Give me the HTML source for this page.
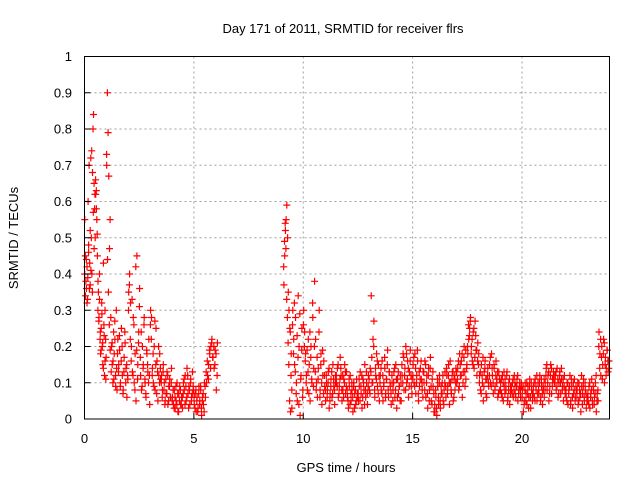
<!DOCTYPE html>
<html><head><meta charset="utf-8"><style>
body{margin:0;background:#fff}
svg{display:block;font-family:"Liberation Sans",sans-serif;font-size:13px}
</style></head><body>
<svg id="chart" width="640" height="480">
<rect width="640" height="480" fill="#fff"/>
<g id="grid"></g>
<g id="pts"></g>
<rect x="84.5" y="56.5" width="525" height="362.5" fill="none" stroke="#000"/>
<g id="ticks"></g>
<text x="343" y="33" text-anchor="middle">Day 171 of 2011, SRMTID for receiver flrs</text>
<text x="346" y="472" text-anchor="middle">GPS time / hours</text>
<text transform="translate(18,238) rotate(-90)" text-anchor="middle">SRMTID / TECUs</text>
</svg>
<script>
const xTicks=[0,5,10,15,20];
const yTicks=[0,0.1,0.2,0.3,0.4,0.5,0.6,0.7,0.8,0.9,1];
const yTickLabels=["0","0.1","0.2","0.3","0.4","0.5","0.6","0.7","0.8","0.9","1"];
const blockStart=[0,0.5,1,1.5,2,2.5,3,3.5,4,4.5,5,5.5,9.1,9.5,10,10.5,11,11.5,12,12.5,13,13.5,14,14.5,15,15.5,16,16.5,17,17.5,18,18.5,19,19.5,20,20.5,21,21.5,22,22.5,23,23.5];
const blockEnd=[0.5,1,1.5,2,2.5,3,3.5,4,4.5,5,5.5,6.1,9.5,10,10.5,11,11.5,12,12.5,13,13.5,14,14.5,15,15.5,16,16.5,17,17.5,18,18.5,19,19.5,20,20.5,21,21.5,22,22.5,23,23.5,24];
const tecu=[
[0.55,0.45,0.38,0.36,0.42,0.33,0.60,0.48,0.70,0.43,0.37,0.72,0.50,0.40,0.35,0.80,0.84,0.65,0.58,0.50],
[0.62,0.63,0.55,0.45,0.30,0.35,0.28,0.40,0.22,0.18,0.25,0.32,0.20,0.15,0.43,0.26,0.12,0.30,0.22,0.17],
[0.70,0.90,0.79,0.67,0.47,0.55,0.28,0.20,0.15,0.10,0.24,0.18,0.22,0.12,0.30,0.08],
[0.22,0.15,0.19,0.10,0.25,0.12,0.08,0.17,0.21,0.14,0.06,0.11],
[0.35,0.40,0.32,0.20,0.13,0.28,0.10,0.18,0.05,0.45,0.15,0.24],
[0.36,0.12,0.08,0.20,0.15,0.28,0.10,0.06,0.18,0.13,0.22,0.04],
[0.30,0.28,0.14,0.10,0.20,0.08,0.25,0.16,0.05,0.12,0.18,0.11],
[0.12,0.08,0.15,0.10,0.05,0.07,0.13,0.04,0.09,0.11,0.06,0.14],
[0.06,0.04,0.08,0.03,0.05,0.10,0.02,0.07,0.09,0.04,0.06,0.03],
[0.10,0.08,0.12,0.05,0.14,0.07,0.09,0.04,0.11,0.06,0.13,0.08],
[0.04,0.07,0.02,0.06,0.03,0.09,0.05,0.08,0.01,0.06,0.04,0.10],
[0.06,0.10,0.12,0.15,0.18,0.20,0.22,0.17,0.14,0.19,0.08,0.21],
[0.37,0.45,0.52,0.55,0.59,0.50,0.35,0.30,0.25,0.02,0.18,0.03],
[0.30,0.22,0.15,0.28,0.10,0.05,0.34,0.20,0.01,0.12,0.25,0.08],
[0.30,0.24,0.18,0.12,0.08,0.22,0.15,0.05,0.20,0.10,0.28,0.14],
[0.38,0.22,0.10,0.06,0.14,0.30,0.08,0.18,0.04,0.12,0.16,0.09],
[0.05,0.10,0.08,0.13,0.03,0.07,0.11,0.06,0.15,0.09,0.04,0.12],
[0.10,0.14,0.06,0.09,0.17,0.12,0.05,0.08,0.11,0.15,0.07,0.13],
[0.06,0.03,0.09,0.12,0.05,0.08,0.02,0.10,0.07,0.04,0.11,0.06],
[0.05,0.09,0.13,0.07,0.03,0.11,0.08,0.15,0.06,0.10,0.04,0.12],
[0.08,0.14,0.34,0.10,0.22,0.27,0.06,0.12,0.18,0.09,0.15,0.05],
[0.12,0.08,0.16,0.05,0.10,0.14,0.07,0.11,0.19,0.06,0.13,0.09],
[0.04,0.10,0.08,0.13,0.06,0.15,0.03,0.11,0.07,0.09,0.12,0.05],
[0.12,0.18,0.08,0.14,0.20,0.10,0.16,0.06,0.13,0.19,0.09,0.11],
[0.15,0.10,0.18,0.07,0.12,0.16,0.05,0.09,0.14,0.11,0.08,0.13],
[0.10,0.16,0.06,0.12,0.03,0.14,0.08,0.17,0.05,0.11,0.09,0.02],
[0.02,0.06,0.01,0.09,0.04,0.12,0.03,0.07,0.10,0.05,0.08,0.13],
[0.06,0.12,0.09,0.15,0.04,0.10,0.07,0.13,0.05,0.11,0.08,0.14],
[0.10,0.14,0.08,0.18,0.12,0.16,0.06,0.13,0.20,0.09,0.11,0.15],
[0.18,0.22,0.25,0.28,0.20,0.16,0.24,0.14,0.27,0.19,0.12,0.21],
[0.18,0.12,0.08,0.15,0.10,0.05,0.13,0.16,0.07,0.11,0.14,0.09],
[0.15,0.10,0.18,0.12,0.07,0.14,0.09,0.16,0.11,0.06,0.13,0.08],
[0.10,0.07,0.12,0.05,0.09,0.11,0.08,0.13,0.06,0.10,0.04,0.09],
[0.08,0.10,0.06,0.12,0.07,0.09,0.11,0.05,0.08,0.10,0.06,0.09],
[0.08,0.02,0.05,0.10,0.07,0.04,0.09,0.06,0.11,0.03,0.08,0.05],
[0.09,0.06,0.11,0.08,0.05,0.10,0.07,0.12,0.06,0.09,0.04,0.08],
[0.06,0.10,0.14,0.08,0.12,0.05,0.09,0.15,0.07,0.11,0.13,0.10],
[0.12,0.08,0.14,0.06,0.10,0.13,0.07,0.11,0.09,0.05,0.12,0.08],
[0.06,0.10,0.04,0.08,0.12,0.05,0.09,0.03,0.07,0.11,0.06,0.08],
[0.08,0.04,0.10,0.06,0.02,0.09,0.07,0.11,0.05,0.08,0.03,0.06],
[0.05,0.09,0.03,0.07,0.11,0.04,0.08,0.06,0.10,0.02,0.07,0.05],
[0.24,0.18,0.12,0.20,0.15,0.22,0.10,0.17,0.14,0.19,0.13,0.16]
];
const tecuB=[
[0.40,0.34,0.44,0.32,0.39,0.46,0.36,0.52,0.41,0.74,0.68,0.57,0.47,0.62],
[0.66,0.58,0.51,0.38,0.27,0.33,0.24,0.19,0.29,0.21,0.14,0.23,0.16,0.11],
[0.73,0.44,0.35,0.26,0.19,0.13,0.21,0.16,0.11,0.27,0.09,0.14],
[0.18,0.13,0.23,0.09,0.16,0.20,0.07,0.13,0.24,0.10,0.15,0.12],
[0.30,0.37,0.22,0.16,0.33,0.12,0.26,0.08,0.42,0.19,0.11,0.21],
[0.31,0.17,0.24,0.09,0.14,0.26,0.11,0.07,0.19,0.15,0.10,0.12],
[0.26,0.22,0.12,0.18,0.09,0.27,0.15,0.07,0.13,0.20,0.10,0.14],
[0.10,0.06,0.13,0.08,0.04,0.11,0.07,0.12,0.05,0.09,0.06,0.10],
[0.05,0.08,0.03,0.06,0.09,0.04,0.07,0.02,0.05,0.08,0.04,0.06],
[0.07,0.11,0.04,0.09,0.06,0.12,0.03,0.08,0.10,0.05,0.07,0.09],
[0.06,0.03,0.08,0.05,0.02,0.07,0.04,0.09,0.03,0.05,0.07,0.02],
[0.09,0.13,0.16,0.11,0.19,0.14,0.21,0.17,0.20,0.15,0.18,0.12],
[0.42,0.49,0.54,0.47,0.33,0.28,0.21,0.15,0.05,0.24,0.12,0.08],
[0.26,0.18,0.32,0.13,0.07,0.23,0.17,0.04,0.29,0.11,0.19,0.06],
[0.26,0.20,0.16,0.10,0.19,0.13,0.07,0.24,0.17,0.11,0.32,0.09],
[0.20,0.13,0.08,0.17,0.11,0.24,0.06,0.15,0.10,0.19,0.07,0.12],
[0.08,0.12,0.06,0.10,0.14,0.05,0.09,0.13,0.07,0.11,0.08,0.10],
[0.12,0.09,0.15,0.07,0.11,0.14,0.08,0.12,0.06,0.10,0.13,0.09],
[0.08,0.05,0.11,0.04,0.07,0.10,0.06,0.09,0.03,0.08,0.05,0.07],
[0.07,0.11,0.05,0.09,0.12,0.06,0.10,0.04,0.08,0.13,0.07,0.09],
[0.11,0.07,0.13,0.17,0.10,0.20,0.08,0.14,0.11,0.16,0.07,0.12],
[0.10,0.14,0.07,0.12,0.09,0.17,0.06,0.11,0.15,0.08,0.13,0.10],
[0.07,0.12,0.05,0.10,0.14,0.08,0.11,0.06,0.13,0.09,0.05,0.10],
[0.15,0.10,0.17,0.12,0.08,0.18,0.11,0.14,0.09,0.16,0.12,0.07],
[0.12,0.17,0.09,0.14,0.10,0.19,0.07,0.13,0.11,0.16,0.10,0.06],
[0.13,0.08,0.15,0.10,0.07,0.12,0.05,0.14,0.09,0.04,0.13,0.07],
[0.04,0.08,0.03,0.11,0.06,0.10,0.05,0.09,0.07,0.12,0.04,0.10],
[0.09,0.14,0.07,0.12,0.10,0.16,0.08,0.11,0.13,0.06,0.12,0.10],
[0.13,0.11,0.16,0.09,0.15,0.12,0.18,0.10,0.17,0.13,0.19,0.14],
[0.20,0.26,0.23,0.27,0.18,0.22,0.15,0.25,0.17,0.23,0.19,0.16],
[0.15,0.10,0.13,0.07,0.12,0.17,0.09,0.14,0.11,0.06,0.12,0.10],
[0.12,0.17,0.09,0.14,0.10,0.15,0.08,0.12,0.10,0.13,0.07,0.11],
[0.08,0.11,0.06,0.10,0.13,0.07,0.09,0.12,0.05,0.08,0.11,0.07],
[0.09,0.07,0.11,0.08,0.10,0.06,0.09,0.12,0.07,0.09,0.08,0.10],
[0.06,0.09,0.04,0.08,0.05,0.10,0.07,0.03,0.09,0.06,0.10,0.07],
[0.07,0.10,0.05,0.09,0.12,0.07,0.08,0.10,0.05,0.11,0.07,0.09],
[0.11,0.08,0.12,0.15,0.10,0.13,0.07,0.12,0.14,0.09,0.11,0.12],
[0.10,0.13,0.09,0.11,0.07,0.12,0.10,0.14,0.08,0.11,0.09,0.07],
[0.08,0.05,0.10,0.07,0.09,0.04,0.11,0.06,0.10,0.08,0.05,0.09],
[0.06,0.10,0.05,0.08,0.07,0.12,0.04,0.09,0.06,0.10,0.07,0.05],
[0.07,0.04,0.10,0.06,0.08,0.05,0.09,0.04,0.07,0.12,0.05,0.08],
[0.20,0.14,0.22,0.17,0.11,0.18,0.21,0.15,0.12,0.19,0.16,0.14]
];
const NS="http://www.w3.org/2000/svg";
const X0=84.5,X1=609.5,Y0=419,Y1=56.5;
function xs(h){return X0+(h/24)*(X1-X0);}
function ys(v){return Y0-v*(Y0-Y1);}
function mk(tag,attrs,parent){const e=document.createElementNS(NS,tag);for(const k in attrs)e.setAttribute(k,attrs[k]);parent.appendChild(e);return e;}
const grid=document.getElementById('grid'),ticks=document.getElementById('ticks'),pts=document.getElementById('pts');
xTicks.forEach(t=>{
  const x=xs(t);
  if(t>0){const g=mk('line',{x1:x,x2:x,y1:Y1,y2:Y0,stroke:'#a0a0a0','stroke-dasharray':'2,3'},grid);
  
  }
  const l=mk('line',{x1:x,x2:x,y1:Y0,y2:Y0-6,stroke:'#000'},ticks);
  
  
  const tx=mk('text',{x:x,y:443,'text-anchor':'middle'},ticks);tx.textContent=String(t);
  
  
});
yTicks.forEach((t,i)=>{
  const y=ys(t);
  if(t>0&&t<1){const g=mk('line',{x1:X0,x2:X1,y1:y,y2:y,stroke:'#a0a0a0','stroke-dasharray':'2,3'},grid);
  
  }
  const l=mk('line',{x1:X0,x2:X0+6,y1:y,y2:y,stroke:'#000'},ticks);
  
  
  const tx=mk('text',{x:72,y:y+4.5,'text-anchor':'end'},ticks);tx.textContent=yTickLabels[i];
  
  
});
function pathFor(series,offset){
  let d='';
  series.forEach((vals,b)=>{
    const s=blockStart[b],e=blockEnd[b];
    vals.forEach((v,i)=>{
      const x=xs(s+(i+offset)/vals.length*(e-s)),y=ys(v);
      d+=`M${(x-3.5).toFixed(1)} ${y.toFixed(1)}h7M${x.toFixed(1)} ${(y-3.5).toFixed(1)}v7`;
    });
  });
  return d;
}
const p=mk('path',{d:pathFor(tecu,0.5),stroke:'#ff0000','stroke-width':1.2,fill:'none'},pts);


const p2=mk('path',{d:pathFor(tecuB,0.25),stroke:'#ff0000','stroke-width':1.2,fill:'none'},pts);


</script>
</body></html>
